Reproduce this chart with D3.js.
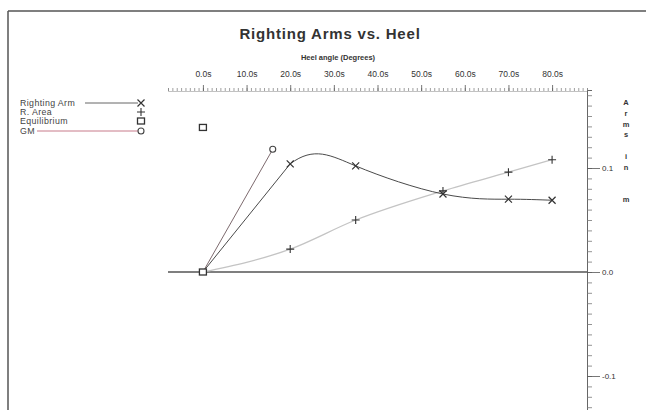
<!DOCTYPE html>
<html>
<head>
<meta charset="utf-8">
<script src="https://cdn.jsdelivr.net/npm/d3@7"></script>
<style>
  html, body { margin: 0; padding: 0; background: #fff; }
  svg { display: block; font-family: "Liberation Sans", Arial, sans-serif; }
</style>
</head>
<body>
<svg id="chart" width="646" height="410"></svg>
<script>
// Heel angles (degrees) at which the curves were computed
const heelAngles = [0, 20, 35, 55, 70, 80];
// Righting arm (m)
const rightingArm = [0, 0.104, 0.102, 0.075, 0.070, 0.069];
// Area under the righting arm curve
const rArea = [0, 0.022, 0.050, 0.078, 0.096, 0.108];
// GM line: from origin to the GM point
const gmAngles = [0, 16];
const gmValues = [0, 0.118];
// Equilibrium markers
const eqAngles = [0, 0];
const eqValues = [0, 0.139];
// Axis labels
const xTickValues = [0, 10, 20, 30, 40, 50, 60, 70, 80];
const xTickLabels = ["0.0s", "10.0s", "20.0s", "30.0s", "40.0s", "50.0s", "60.0s", "70.0s", "80.0s"];
const yTickValues = [-0.1, 0, 0.1];
const yTickLabels = ["-0.1", "0.0", "0.1"];
const legendNames = ["Righting Arm", "R. Area", "Equilibrium", "GM"];

const svg = d3.select("#chart");
const ink = "#4a4a4a";

// frame
svg.append("line").attr("x1", 8).attr("x2", 646).attr("y1", 11).attr("y2", 11)
  .attr("stroke", "#555").attr("stroke-width", 1.5);
svg.append("line").attr("x1", 8).attr("x2", 8).attr("y1", 11).attr("y2", 410)
  .attr("stroke", "#555").attr("stroke-width", 1.5);

// scales
const x = d3.scaleLinear().domain([-8, 88]).range([168, 587]);
const y = d3.scaleLinear().domain([0, 0.1]).range([272, 168]);
const yTop = 90, yBottom = 420;

// title
svg.append("text").attr("x", 330).attr("y", 39).attr("text-anchor", "middle")
  .attr("font-size", 15).attr("font-weight", "bold").attr("fill", "#333")
  .attr("letter-spacing", 0.8)
  .text("Righting Arms vs. Heel");

// top ruler axis
const rulerY = 91;
const minorTop = d3.axisTop(x).tickValues(d3.range(-8, 89, 1)).tickSize(3).tickFormat("");
svg.append("g").attr("transform", `translate(0,${rulerY})`).call(minorTop)
  .call(g => g.select(".domain").attr("stroke", "#999").attr("stroke-width", 0.6))
  .call(g => g.selectAll(".tick line").attr("stroke", "#777").attr("stroke-width", 0.7));
const majorTop = d3.axisTop(x).tickValues(xTickValues).tickSize(6).tickPadding(8)
  .tickFormat((d, i) => xTickLabels[i]);
svg.append("g").attr("transform", `translate(0,${rulerY})`).call(majorTop)
  .call(g => g.select(".domain").remove())
  .call(g => g.selectAll(".tick line").attr("stroke", "#555").attr("stroke-width", 0.8))
  .call(g => g.selectAll(".tick text").attr("font-size", 8.5).attr("fill", "#333")
    .attr("font-family", "Liberation Sans, Arial, sans-serif"));
svg.append("text").attr("x", 338).attr("y", 60).attr("text-anchor", "middle")
  .attr("font-size", 7.5).attr("font-weight", "bold").attr("fill", "#333")
  .text("Heel angle (Degrees)");

// right axis
const axisX = x(88);
const yAll = d3.scaleLinear().domain([y.invert(yBottom), y.invert(yTop)]).range([yBottom, yTop]);
const minorRight = d3.axisRight(yAll)
  .tickValues(d3.range(-15, 18).map(v => v / 100)).tickSize(5).tickFormat("");
svg.append("g").attr("transform", `translate(${axisX},0)`).call(minorRight)
  .call(g => g.select(".domain").attr("stroke", "#666").attr("stroke-width", 1))
  .call(g => g.selectAll(".tick line").attr("stroke", "#777").attr("stroke-width", 0.8));
const majorRight = d3.axisRight(yAll).tickValues(yTickValues).tickSize(13).tickPadding(2)
  .tickFormat((d, i) => yTickLabels[i]);
svg.append("g").attr("transform", `translate(${axisX},0)`).call(majorRight)
  .call(g => g.select(".domain").remove())
  .call(g => g.selectAll(".tick line").attr("stroke", "#555").attr("stroke-width", 0.8))
  .call(g => g.selectAll(".tick text").attr("font-size", 8).attr("fill", "#333")
    .attr("font-family", "Liberation Sans, Arial, sans-serif"));

// right axis title, stacked letters
const yTitle = "Arms in  m".split("");
svg.append("g").selectAll("text").data(yTitle).join("text")
  .attr("x", 626).attr("y", (d, i) => 105 + i * 10.8)
  .attr("text-anchor", "middle").attr("font-size", 7.5).attr("font-weight", "bold")
  .attr("fill", "#333").text(d => d);

// zero line
svg.append("line").attr("x1", x(-8)).attr("x2", axisX).attr("y1", y(0)).attr("y2", y(0))
  .attr("stroke", "#555").attr("stroke-width", 1.5);

const natural = d3.line().x(d => x(d[0])).y(d => y(d[1])).curve(d3.curveNatural);
const monotone = d3.line().x(d => x(d[0])).y(d => y(d[1])).curve(d3.curveMonotoneX);
const straight = d3.line().x(d => x(d[0])).y(d => y(d[1]));

// R. Area curve
const areaPts = heelAngles.map((a, i) => [a, rArea[i]]);
svg.append("path").attr("d", monotone(areaPts)).attr("fill", "none")
  .attr("stroke", "#c4c4c4").attr("stroke-width", 1.3);

// GM line
const gmPts = gmAngles.map((a, i) => [a, gmValues[i]]);
svg.append("path").attr("d", straight(gmPts)).attr("fill", "none")
  .attr("stroke", "#7d6a6e").attr("stroke-width", 1);

// Righting arm curve: natural spline through all points,
// with the first span (upright to first computed angle) drawn straight
const raPts = heelAngles.map((a, i) => [a, rightingArm[i]]);
const raParts = natural(raPts).split("C");
const firstEnd = raParts[1].split(",").slice(-2).join(",");
const raPath = raParts[0] + "L" + firstEnd + raParts.slice(2).map(s => "C" + s).join("");
svg.append("path").attr("d", raPath)
  .attr("fill", "none").attr("stroke", ink).attr("stroke-width", 1);

// marker drawers
function crossX(g, cx, cy) {
  const s = 3.5;
  g.append("path").attr("d", `M${cx - s},${cy - s}L${cx + s},${cy + s}M${cx - s},${cy + s}L${cx + s},${cy - s}`)
    .attr("stroke", "#333").attr("stroke-width", 1.2).attr("fill", "none");
}
function plus(g, cx, cy) {
  const s = 4;
  g.append("path").attr("d", `M${cx - s},${cy}L${cx + s},${cy}M${cx},${cy - s}L${cx},${cy + s}`)
    .attr("stroke", "#333").attr("stroke-width", 1.1).attr("fill", "none");
}
function square(g, cx, cy) {
  g.append("rect").attr("x", cx - 3.5).attr("y", cy - 3).attr("width", 7).attr("height", 6)
    .attr("fill", "#fff").attr("stroke", "#333").attr("stroke-width", 1.3);
}
function circle(g, cx, cy) {
  g.append("circle").attr("cx", cx).attr("cy", cy).attr("r", 3)
    .attr("fill", "#fff").attr("stroke", "#444").attr("stroke-width", 1.1);
}

const marks = svg.append("g");
areaPts.filter(d => d[0] > 0).forEach(d => plus(marks, x(d[0]), y(d[1])));
raPts.filter(d => d[0] > 0).forEach(d => crossX(marks, x(d[0]), y(d[1])));
circle(marks, x(gmPts[1][0]), y(gmPts[1][1]));
eqAngles.forEach((a, i) => square(marks, x(a), y(eqValues[i])));

// legend
const leg = svg.append("g");
const legY = [103, 112, 121, 131];
const legMarkX = 141;
legendNames.forEach((name, i) => {
  leg.append("text").attr("x", 20).attr("y", legY[i] + 3).attr("font-size", 8.8)
    .attr("letter-spacing", 0.4).attr("fill", "#444").text(name);
});
leg.append("line").attr("x1", 85).attr("x2", 138).attr("y1", legY[0]).attr("y2", legY[0])
  .attr("stroke", "#555").attr("stroke-width", 0.9);
leg.append("line").attr("x1", 37).attr("x2", 138).attr("y1", legY[3]).attr("y2", legY[3])
  .attr("stroke", "#c77b8a").attr("stroke-width", 1);
crossX(leg, legMarkX, legY[0]);
plus(leg, legMarkX, legY[1]);
square(leg, legMarkX, legY[2]);
circle(leg, legMarkX, legY[3]);
</script>
</body>
</html>
